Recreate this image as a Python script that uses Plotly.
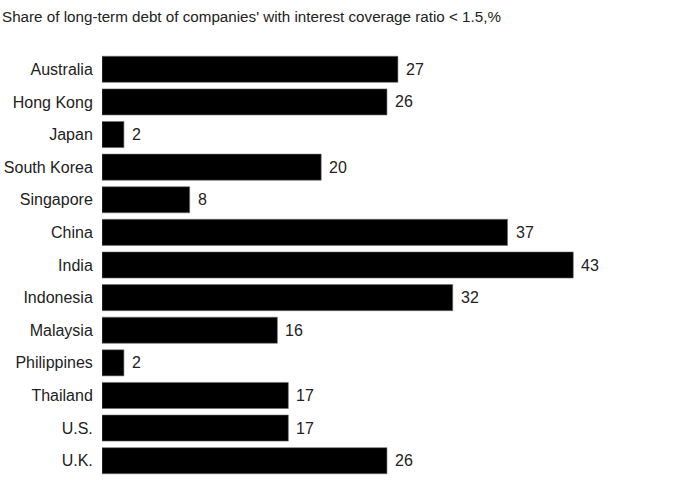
import plotly.graph_objects as go

countries = ["Australia", "Hong Kong", "Japan", "South Korea", "Singapore", "China",
             "India", "Indonesia", "Malaysia", "Philippines", "Thailand", "U.S.", "U.K."]
shares = [27, 26, 2, 20, 8, 37, 43, 32, 16, 2, 17, 17, 26]
title_text = "Share of long-term debt of companies' with interest coverage ratio < 1.5,%"

FONT = "Liberation Sans, Arial, sans-serif"

fig = go.Figure()
fig.add_trace(go.Bar(
    x=shares, y=countries, orientation="h",
    marker=dict(color="#000000", line=dict(color="#6e6e6e", width=0.6)),
    hoverinfo="x+y",
))

for c, v in zip(countries, shares):
    fig.add_annotation(x=v, y=c, text=str(v), showarrow=False,
                       xanchor="left", yanchor="middle", xshift=6,
                       font=dict(family=FONT, size=16, color="#222222"))

fig.update_layout(
    width=680, height=481,
    margin=dict(l=102, r=30, t=53, b=4, autoexpand=False),
    paper_bgcolor="white", plot_bgcolor="white",
    bargap=0.2,
    showlegend=False,
    title=dict(text=title_text, x=0.003, xref="container", xanchor="left",
               y=0.965, yanchor="middle",
               pad=dict(l=0, r=0, t=0, b=0), automargin=False,
               font=dict(family=FONT, size=15.2, color="#222222")),
    xaxis=dict(range=[0, 50], visible=False, fixedrange=True),
    yaxis=dict(autorange="reversed", showgrid=False, zeroline=False, showline=False,
               automargin=False,
               ticks="outside", ticklen=5, tickcolor="rgba(0,0,0,0)",
               tickfont=dict(family=FONT, size=16, color="#222222")),
)

fig.write_html("out.html", config={"displayModeBar": False},
               post_script="document.body.style.margin='0';document.body.style.padding='0';")
